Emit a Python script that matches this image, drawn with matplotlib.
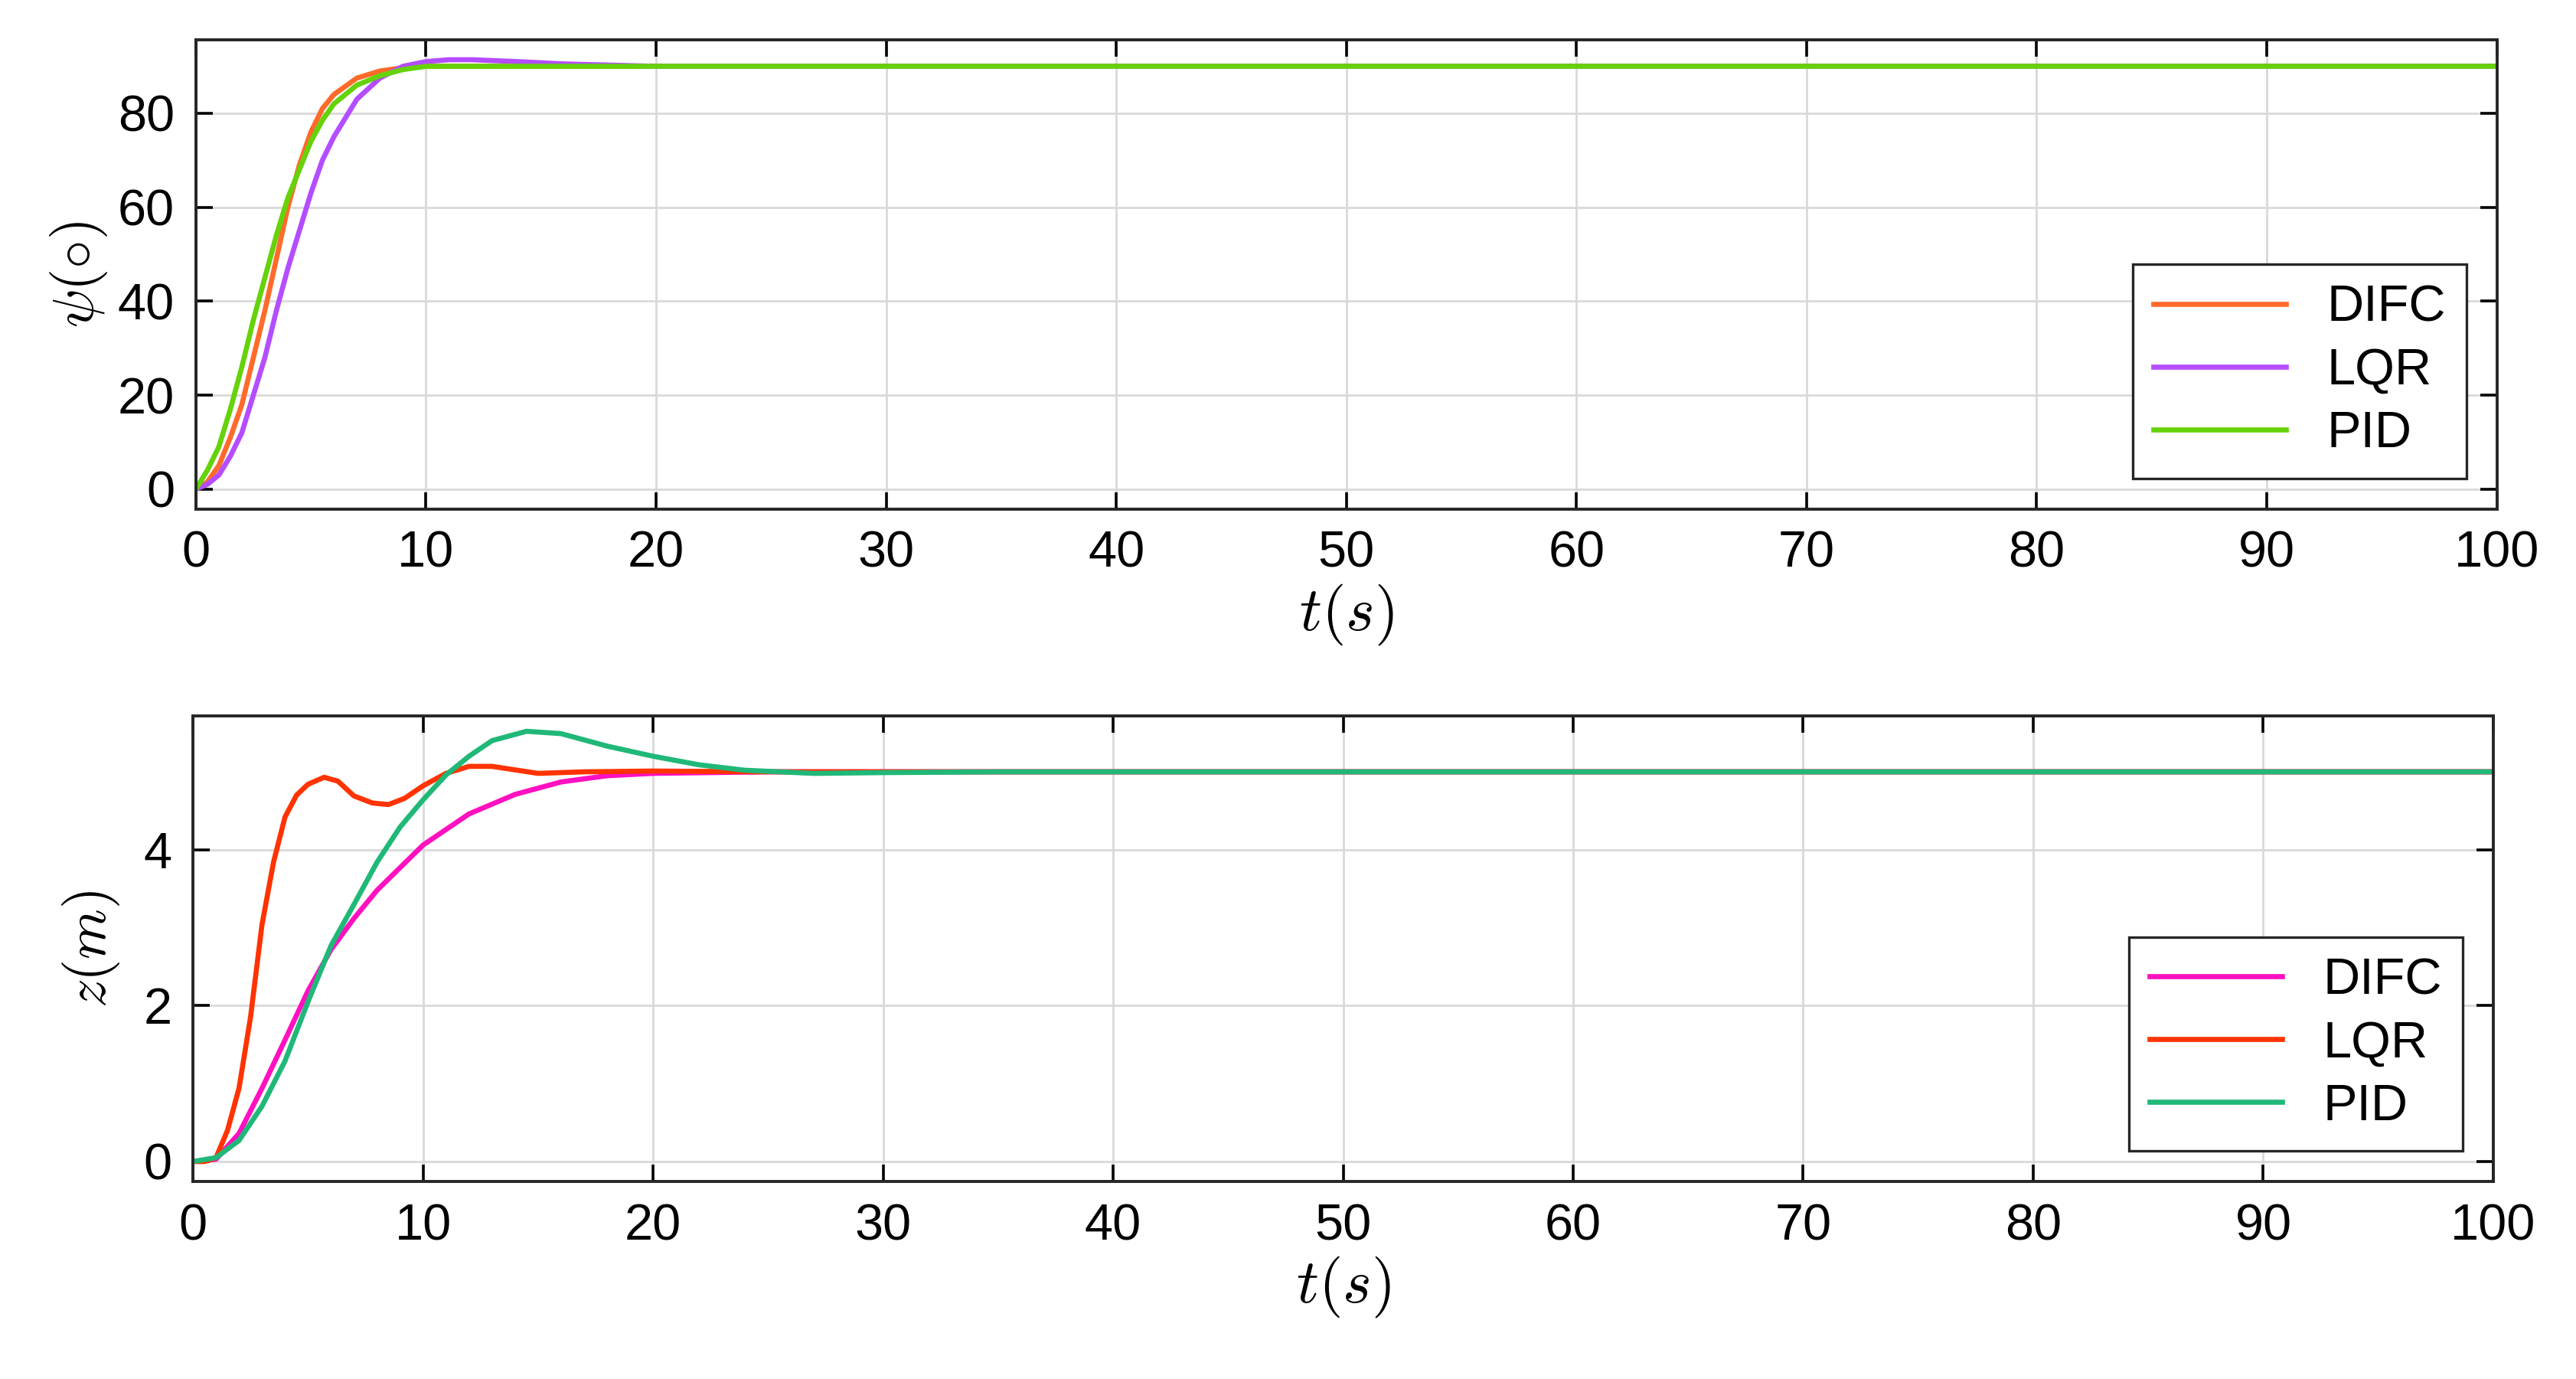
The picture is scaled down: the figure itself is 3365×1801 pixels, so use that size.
import numpy as np
import matplotlib.pyplot as plt

plt.rcParams['font.family'] = ['Liberation Sans', 'DejaVu Sans']
plt.rcParams['mathtext.fontset'] = 'cm'

# yaw angle responses
t_psi_difc = [0, 0.5, 1, 1.5, 2, 2.5, 3, 3.5, 4, 4.5, 5, 5.5, 6, 7, 8, 9, 10, 12, 100]
psi_difc = [0, 1.5, 5, 11, 18, 28, 38, 49, 60, 69, 76, 81, 84, 87.5, 89, 89.7, 90, 90, 90]
t_psi_lqr = [0, 0.5, 1, 1.5, 2, 2.5, 3, 3.5, 4, 4.5, 5, 5.5, 6, 7, 8, 9, 10, 11, 12, 14, 16, 20, 100]
psi_lqr = [0, 1, 3, 7, 12, 20, 28, 38, 47, 55, 63, 70, 75, 83, 87.5, 90, 91, 91.4, 91.4, 91, 90.5, 90, 90]
t_psi_pid = [0, 0.5, 1, 1.5, 2, 2.5, 3, 3.5, 4, 4.5, 5, 5.5, 6, 7, 8, 9, 10, 12, 100]
psi_pid = [0, 4, 9, 17, 26, 36, 45, 54, 62, 68, 74, 78.5, 82, 86, 88, 89.3, 90, 90, 90]

# altitude responses
t_z_difc = [0, 1, 2, 3, 4, 5, 6, 7, 8, 10, 12, 14, 16, 18, 20, 25, 100]
z_difc = [0, 0.03, 0.36, 0.94, 1.56, 2.19, 2.72, 3.12, 3.48, 4.06, 4.46, 4.71, 4.87, 4.95, 4.98, 5.0, 5.0]
t_z_lqr = [0, 0.5, 1, 1.5, 2, 2.5, 3, 3.5, 4, 4.5, 5, 5.7, 6.3, 7, 7.8, 8.5, 9.2, 10, 11, 12, 13, 15, 17, 20, 25, 100]
z_lqr = [0, 0.0, 0.05, 0.4, 0.94, 1.85, 3.04, 3.84, 4.42, 4.7, 4.84, 4.93, 4.88, 4.69, 4.6, 4.58, 4.66, 4.82, 4.98, 5.07, 5.07, 4.98, 5.0, 5.01, 5.0, 5.0]
t_z_pid = [0, 1, 2, 3, 4, 5, 6, 7, 8, 9, 10, 11, 12, 13, 14.5, 16, 18, 20, 22, 24, 27, 30, 35, 100]
z_pid = [0, 0.05, 0.27, 0.71, 1.29, 2.05, 2.77, 3.3, 3.84, 4.29, 4.64, 4.96, 5.2, 5.4, 5.52, 5.49, 5.33, 5.2, 5.09, 5.02, 4.98, 4.99, 5.0, 5.0]

fig = plt.figure(figsize=(16.83, 9.005), dpi=200)
ax1 = fig.add_axes([0.076, 0.631, 0.893, 0.340])
ax2 = fig.add_axes([0.0749, 0.143, 0.8927, 0.338])

lw = 2.4
ax1.plot(t_psi_difc, psi_difc, color='#FF6A2B', lw=lw, label='DIFC')
ax1.plot(t_psi_lqr, psi_lqr, color='#B44DFF', lw=lw, label='LQR')
ax1.plot(t_psi_pid, psi_pid, color='#66D20A', lw=lw, label='PID')
ax1.set_ylim(-4.2, 95.6)
ax1.set_yticks([0, 20, 40, 60, 80])
ax1.set_ylabel(r'$\psi(\circ)$', fontsize=27, labelpad=4)

ax2.plot(t_z_difc, z_difc, color='#FF10C0', lw=lw, label='DIFC')
ax2.plot(t_z_lqr, z_lqr, color='#FF3300', lw=lw, label='LQR')
ax2.plot(t_z_pid, z_pid, color='#20B878', lw=lw, label='PID')
ax2.set_ylim(-0.26, 5.72)
ax2.set_yticks([0, 2, 4])
ax2.set_ylabel(r'$z(m)$', fontsize=27, labelpad=10)

for ax in (ax1, ax2):
    ax.set_xlim(0, 100)
    ax.set_xticks(range(0, 101, 10))
    ax.set_xlabel(r'$t(s)$', fontsize=29, labelpad=2)
    ax.grid(True, color='#d9d9d9', lw=1)
    ax.tick_params(direction='in', top=True, right=True, labelsize=24, length=8, width=1.3, pad=10)
    for s in ax.spines.values():
        s.set_linewidth(1.4)
        s.set_color('#262626')
    leg = ax.legend(loc='lower right', fontsize=24, fancybox=False, edgecolor='#262626',
                    framealpha=1, handlelength=2.6, borderaxespad=0.6, labelspacing=0.3)
    leg.get_frame().set_linewidth(1.2)

fig.savefig('out.png', dpi=200)
